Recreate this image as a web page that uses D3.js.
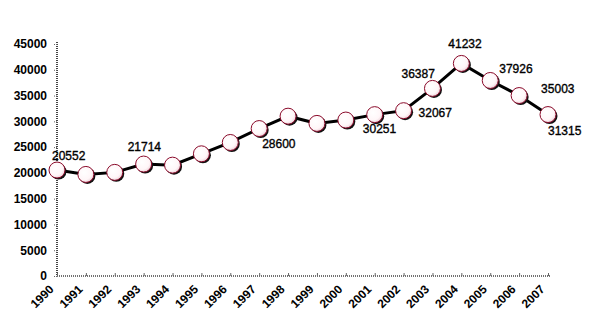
<!DOCTYPE html>
<html>
<head>
<meta charset="utf-8">
<script src="https://cdn.jsdelivr.net/npm/d3@7"></script>
<style>
  html, body { margin: 0; padding: 0; background: #fff; }
  svg { display: block; }
  text { font-family: "Liberation Sans", Arial, sans-serif; }
</style>
</head>
<body>
<svg id="chart" width="595" height="336"></svg>
<script>
// ---- data ----
const years = ["1990","1991","1992","1993","1994","1995","1996","1997","1998","1999",
               "2000","2001","2002","2003","2004","2005","2006","2007"];
const values = [20552, 19700, 20100, 21714, 21500, 23700, 25900, 28600, 31000, 29600,
                30251, 31300, 32067, 36387, 41232, 37926, 35003, 31315];
const yTicks = [0, 5000, 10000, 15000, 20000, 25000, 30000, 35000, 40000, 45000];
// data labels shown on the chart (year -> label text)
const labelYears = ["1990","1993","1997","2000","2002","2003","2004","2005","2006","2007"];
const labelTexts = ["20552","21714","28600","30251","32067","36387","41232","37926","35003","31315"];
// label placement offsets relative to the point (styling)
const labelDx = [-5, -16, 3, 17, 15, -31, -13, 9, 22, 0];
const labelDy = [-10, -13, 19, 13, 6, -10, -15, -7, -3, 20];

// ---- chart ----
const svg = d3.select("#chart");
const x = d3.scalePoint().domain(years).range([57, 548]);
const y = d3.scaleLinear().domain([0, 45000]).range([276, 44]);

const defs = svg.append("defs");
const grad = defs.append("radialGradient").attr("id", "mk")
  .attr("cx", "40%").attr("cy", "38%").attr("r", "70%");
grad.append("stop").attr("offset", "0%").attr("stop-color", "#ffffff");
grad.append("stop").attr("offset", "65%").attr("stop-color", "#fff6f8");
grad.append("stop").attr("offset", "100%").attr("stop-color", "#e8c8d0");

// Y axis
const yAxis = svg.append("g").attr("transform", "translate(57,0)")
  .call(d3.axisLeft(y).tickValues(yTicks).tickSize(4).tickPadding(6).tickFormat(d3.format("d")));
yAxis.select(".domain").attr("stroke", "#444").attr("stroke-width", 2)
  .attr("stroke-dasharray", "1,1").attr("d", `M0,${y(45000) - 2}V${y(0)}`);
yAxis.selectAll(".tick line").attr("stroke", "#666").attr("stroke-dasharray", "1,1");
yAxis.selectAll(".tick text").attr("font-size", 12).attr("font-weight", "bold")
  .attr("fill", "#000").attr("font-family", "'Liberation Sans', Arial, sans-serif");

// X axis
const xAxis = svg.append("g").attr("transform", `translate(0,${y(0)})`)
  .call(d3.axisBottom(x).tickSize(3).tickPadding(4));
xAxis.select(".domain").attr("stroke", "#444").attr("stroke-width", 1.5)
  .attr("stroke-dasharray", "1,1").attr("d", `M57,0H550`);
xAxis.selectAll(".tick line").attr("stroke", "#666").attr("y2", -3);
xAxis.selectAll(".tick text")
  .attr("font-size", 12).attr("font-weight", "bold").attr("fill", "#000")
  .attr("font-family", "'Liberation Sans', Arial, sans-serif")
  .attr("text-anchor", "end")
  .attr("transform", "translate(-6,11) rotate(-45)")
  .attr("x", 0).attr("y", 0).attr("dy", "0.35em");

// line
const pts = years.map((yr, i) => ({ yr, v: values[i] }));
svg.append("path").datum(pts)
  .attr("fill", "none").attr("stroke", "#000").attr("stroke-width", 3)
  .attr("d", d3.line().x(d => x(d.yr)).y(d => y(d.v)));

// marker shadows
svg.append("g").selectAll("circle").data(pts).join("circle")
  .attr("cx", d => x(d.yr) + 1.5).attr("cy", d => y(d.v) + 1.5).attr("r", 8)
  .attr("fill", "#111");
// markers
svg.append("g").selectAll("circle").data(pts).join("circle")
  .attr("cx", d => x(d.yr)).attr("cy", d => y(d.v)).attr("r", 8)
  .attr("fill", "url(#mk)").attr("stroke", "#8a0a2a").attr("stroke-width", 1);

// data labels
const valByYear = new Map(pts.map(d => [d.yr, d.v]));
svg.append("g").selectAll("text").data(labelYears).join("text")
  .attr("x", (d, i) => x(d) + labelDx[i])
  .attr("y", (d, i) => y(valByYear.get(d)) + labelDy[i])
  .attr("font-size", 12).attr("fill", "#000")
  .attr("stroke", "#000").attr("stroke-width", 0.35)
  .text((d, i) => labelTexts[i]);
</script>
</body>
</html>
